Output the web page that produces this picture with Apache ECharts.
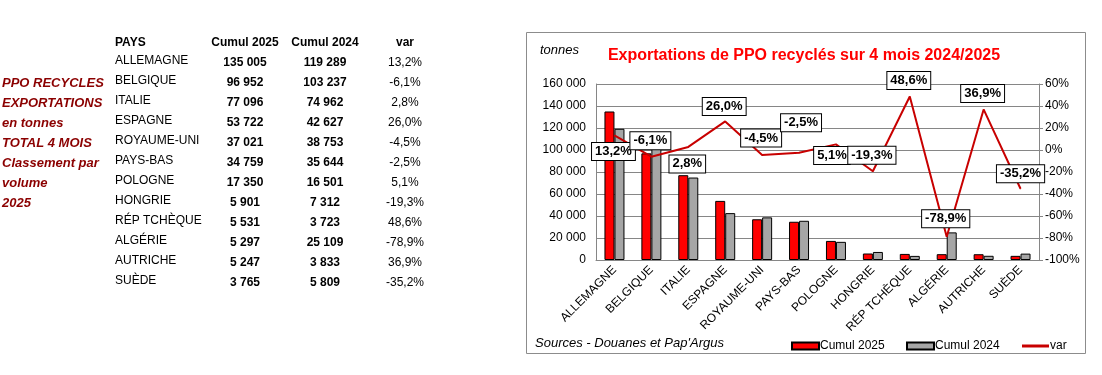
<!DOCTYPE html>
<html>
<head>
<meta charset="utf-8">
<script src="https://cdn.jsdelivr.net/npm/echarts@6/dist/echarts.min.js"></script>
<style>
html,body{margin:0;padding:0;background:#fff;}
#c{width:1102px;height:375px;}
</style>
</head>
<body>
<div id="c"></div>
<script>
// ---- data ----
const countries = ['ALLEMAGNE','BELGIQUE','ITALIE','ESPAGNE','ROYAUME-UNI','PAYS-BAS','POLOGNE','HONGRIE','RÉP TCHÈQUE','ALGÉRIE','AUTRICHE','SUÈDE'];
const cumul2025 = [135005, 96952, 77096, 53722, 37021, 34759, 17350, 5901, 5531, 5297, 5247, 3765];
const cumul2024 = [119289, 103237, 74962, 42627, 38753, 35644, 16501, 7312, 3723, 25109, 3833, 5809];
const varPct = [13.2, -6.1, 2.8, 26.0, -4.5, -2.5, 5.1, -19.3, 48.6, -78.9, 36.9, -35.2];
const tableHeaders = ['PAYS', 'Cumul 2025', 'Cumul 2024', 'var'];
const sideTitleLines = ['PPO RECYCLES', 'EXPORTATIONS', 'en tonnes', 'TOTAL 4 MOIS', 'Classement par', 'volume', '2025'];
const chartTitle = 'Exportations de PPO recyclés sur 4 mois 2024/2025';
const unitLabel = 'tonnes';
const sourceText = "Sources - Douanes et Pap'Argus";
const seriesNames = ['Cumul 2025', 'Cumul 2024', 'var'];

// ---- styling helpers (label placement offsets, not data) ----
const varLabelOffsets = [[-1,16],[-1,-16],[-1,17],[-1,-15],[-1,-17],[2,-30],[-4,11],[-1,-16],[-1,-16],[-1,-18],[-1,-16],[0,-15]];

const FONT = '"Liberation Sans", Arial, sans-serif';
const fmtThousands = n => String(n).replace(/\B(?=(\d{3})+(?!\d))/g, ' ');
const fmtPct = v => v.toFixed(1).replace('.', ',') + '%';

const graphics = [];
// chart frame
graphics.push({type:'rect', shape:{x:526.5, y:32.5, width:559, height:321}, style:{fill:'none', stroke:'#8c8c8c', lineWidth:1}, z:0, silent:true});
function txt(text, x, y, font, fill, align){
  graphics.push({type:'text', x:x, y:y, style:{text:text, font:font, fill:fill, textAlign:align||'left', align:align||'left', textVerticalAlign:'middle', verticalAlign:'middle'}, z:10, silent:true});
}
// left titles
sideTitleLines.forEach((t,i)=> txt(t, 2, 83 + 20*i, 'italic bold 13px ' + FONT, '#8b0000', 'left'));
// table header
txt(tableHeaders[0], 115, 43, 'bold 12px ' + FONT, '#000', 'left');
txt(tableHeaders[1], 245, 43, 'bold 12px ' + FONT, '#000', 'center');
txt(tableHeaders[2], 325, 43, 'bold 12px ' + FONT, '#000', 'center');
txt(tableHeaders[3], 405, 43, 'bold 12px ' + FONT, '#000', 'center');
countries.forEach((c,i)=>{
  txt(c, 115, 61 + 20*i, '12px ' + FONT, '#000', 'left');
  txt(fmtThousands(cumul2025[i]), 245, 63 + 20*i, 'bold 12px ' + FONT, '#000', 'center');
  txt(fmtThousands(cumul2024[i]), 325, 63 + 20*i, 'bold 12px ' + FONT, '#000', 'center');
  txt(fmtPct(varPct[i]), 405, 63 + 20*i, '12px ' + FONT, '#000', 'center');
});
// chart title, unit, source
txt(chartTitle, 804, 56, 'bold 16px ' + FONT, '#ff0000', 'center');
txt(unitLabel, 540, 50, 'italic 13px ' + FONT, '#000', 'left');
txt(sourceText, 535, 343, 'italic 13px ' + FONT, '#000', 'left');

const chart = echarts.init(document.getElementById('c'), null, {renderer:'canvas'});
const legendBase = {top:340, padding:0, itemWidth:27, itemHeight:7, icon:'rect', textStyle:{fontFamily:FONT, fontSize:12, color:'#000', padding:[0,0,0,-4]}, selectedMode:false};
chart.setOption({
  animation:false,
  backgroundColor:'#fff',
  textStyle:{fontFamily:FONT},
  grid:{left:596, right:63, top:84, bottom:115, containLabel:false},
  legend:[
    Object.assign({}, legendBase, {data:[seriesNames[0]], left:791}),
    Object.assign({}, legendBase, {data:[seriesNames[1]], left:906}),
    Object.assign({}, legendBase, {data:[seriesNames[2]], left:1022, itemHeight:3})
  ],
  xAxis:{
    type:'category', data:countries, boundaryGap:true,
    axisLine:{lineStyle:{color:'#868686', width:1}},
    axisTick:{show:false},
    axisLabel:{rotate:45, fontSize:12, color:'#000', margin:8, interval:0, fontFamily:FONT}
  },
  yAxis:[
    {type:'value', min:0, max:160000, interval:20000,
     axisLine:{show:true, lineStyle:{color:'#868686'}},
     axisTick:{show:false},
     splitLine:{lineStyle:{color:'#868686', width:1}},
     axisLabel:{fontSize:12, color:'#000', margin:10, formatter:v=>fmtThousands(v), fontFamily:FONT}},
    {type:'value', min:-100, max:60, interval:20, position:'right',
     axisLine:{show:true, lineStyle:{color:'#868686'}},
     axisTick:{show:true, length:4, inside:false, lineStyle:{color:'#868686'}},
     splitLine:{show:false},
     axisLabel:{fontSize:12, color:'#000', margin:6, formatter:v=>v+'%', fontFamily:FONT}}
  ],
  series:[
    {name:seriesNames[0], type:'bar', data:cumul2025, barWidth:10, barGap:'0%',
     itemStyle:{color:'#ff0000', borderColor:'#000', borderWidth:1}},
    {name:seriesNames[1], type:'bar', data:cumul2024, barWidth:10, barGap:'0%',
     itemStyle:{color:'#a6a6a6', borderColor:'#000', borderWidth:1}},
    {name:seriesNames[2], type:'line', yAxisIndex:1, z:5,
     data:varPct,
     symbol:'circle', symbolSize:1, showSymbol:true,
     itemStyle:{color:'#c80000'},
     lineStyle:{color:'#c80000', width:2},
     label:{show:true, position:'inside', formatter:p=>fmtPct(p.value), fontFamily:FONT, fontSize:13, fontWeight:'bold', color:'#000',
       backgroundColor:'#fff', borderColor:'#000', borderWidth:1, padding:[2,3,1,3], lineHeight:14},
     labelLayout:function(p){ const o = varLabelOffsets[p.dataIndex] || [0,0]; return {dx:o[0], dy:o[1], hideOverlap:false}; }
    }
  ],
  graphic:graphics
});
</script>
</body>
</html>
